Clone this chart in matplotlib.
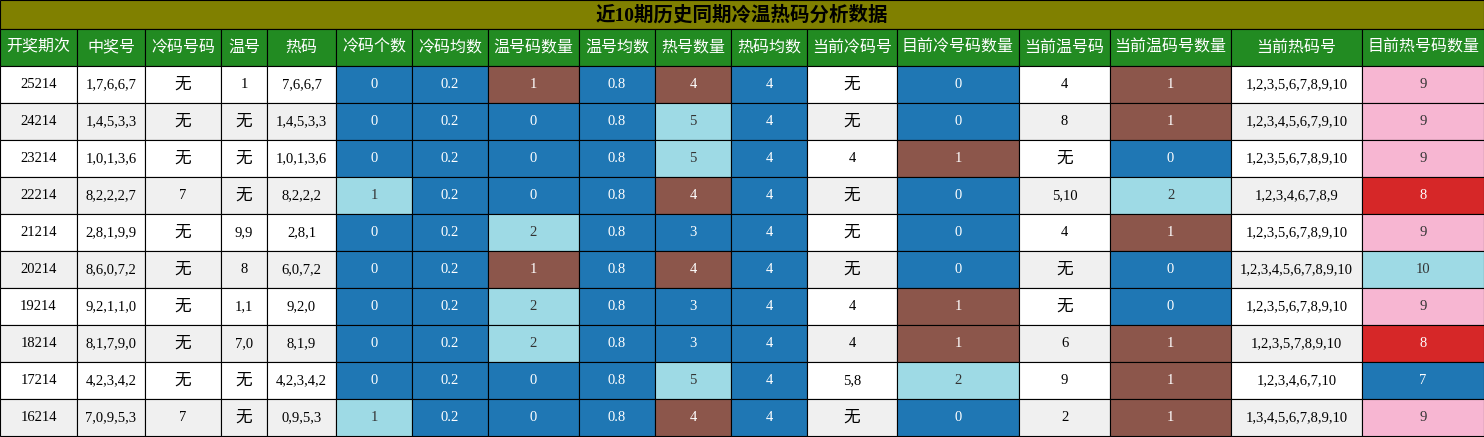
import matplotlib.pyplot as plt
from matplotlib.patches import Rectangle

plt.rcParams['font.family'] = ['Liberation Serif', 'Noto Sans CJK SC']

title = "近10期历史同期冷温热码分析数据"
headers = ["开奖期次", "中奖号", "冷码号码", "温号", "热码", "冷码个数", "冷码均数", "温号码数量",
           "温号均数", "热号数量", "热码均数", "当前冷码号", "目前冷号码数量", "当前温号码",
           "当前温码号数量", "当前热码号", "目前热号码数量"]
periods = ["25214", "24214", "23214", "22214", "21214", "20214", "19214", "18214", "17214", "16214"]
winning = ["1,7,6,6,7", "1,4,5,3,3", "1,0,1,3,6", "8,2,2,2,7", "2,8,1,9,9",
           "8,6,0,7,2", "9,2,1,1,0", "8,1,7,9,0", "4,2,3,4,2", "7,0,9,5,3"]
cold = ["无", "无", "无", "7", "无", "无", "无", "无", "无", "7"]
warm = ["1", "无", "无", "无", "9,9", "8", "1,1", "7,0", "无", "无"]
hot = ["7,6,6,7", "1,4,5,3,3", "1,0,1,3,6", "8,2,2,2", "2,8,1", "6,0,7,2", "9,2,0", "8,1,9", "4,2,3,4,2", "0,9,5,3"]
cold_cnt = [0, 0, 0, 1, 0, 0, 0, 0, 0, 1]
cold_avg = [0.2] * 10
warm_cnt = [1, 0, 0, 0, 2, 1, 2, 2, 0, 0]
warm_avg = [0.8] * 10
hot_cnt = [4, 5, 5, 4, 3, 4, 3, 3, 5, 4]
hot_avg = [4] * 10
cur_cold = ["无", "无", "4", "无", "无", "无", "4", "4", "5,8", "无"]
cur_cold_cnt = [0, 0, 1, 0, 0, 0, 1, 1, 2, 0]
cur_warm = ["4", "8", "无", "5,10", "4", "无", "无", "6", "9", "2"]
cur_warm_cnt = [1, 1, 0, 2, 1, 0, 0, 1, 1, 1]
cur_hot = ["1,2,3,5,6,7,8,9,10", "1,2,3,4,5,6,7,9,10", "1,2,3,5,6,7,8,9,10", "1,2,3,4,6,7,8,9",
           "1,2,3,5,6,7,8,9,10", "1,2,3,4,5,6,7,8,9,10", "1,2,3,5,6,7,8,9,10", "1,2,3,5,7,8,9,10",
           "1,2,3,4,6,7,10", "1,3,4,5,6,7,8,9,10"]
cur_hot_cnt = [9, 9, 9, 8, 9, 10, 9, 8, 7, 9]

BLUE, BROWN, CYAN, PINK, RED = "#1f77b4", "#8c564b", "#9edae5", "#f7b6d2", "#d62728"
cmap_cold = {0: BLUE, 1: CYAN}
cmap_warm = {0: BLUE, 1: BROWN, 2: CYAN}
cmap_hot = {3: BLUE, 4: BROWN, 5: CYAN}
cmap_cur_cold = {0: BLUE, 1: BROWN, 2: CYAN}
cmap_cur_hot = {7: BLUE, 8: RED, 9: PINK, 10: CYAN}

edges = [0, 77, 145, 221, 267, 336, 412, 488, 579, 655, 731, 807, 897, 1019, 1110, 1231, 1362, 1484]
row_y = [66 + 37 * i for i in range(11)]

fig = plt.figure(figsize=(14.84, 4.37), dpi=100)
ax = fig.add_axes([0, 0, 1, 1])
ax.set_xlim(0, 1484)
ax.set_ylim(437, 0)
ax.axis("off")

def cell(x0, x1, y0, y1, txt, bg, fc="black", size=10.5, weight="normal"):
    ax.add_patch(Rectangle((x0, y0), x1 - x0, y1 - y0, facecolor=bg, edgecolor="black", lw=0.8))
    if txt == "无":
        size += 1.5
    ax.text((x0 + x1) / 2, (y0 + y1) / 2, txt, ha="center", va="center", fontsize=size,
            color=fc, weight=weight)

cell(0, 1484, 0, 29, title, "#808000", size=14, weight="bold")
for j, h in enumerate(headers):
    cell(edges[j], edges[j + 1], 29, 66, h, "#228B22", fc="white", size=11.5)

for i in range(10):
    base = "white" if i % 2 == 0 else "#f0f0f0"
    vals = [(periods[i], None), (winning[i], None), (cold[i], None), (warm[i], None), (hot[i], None),
            (cold_cnt[i], cmap_cold[cold_cnt[i]]), (cold_avg[i], BLUE),
            (warm_cnt[i], cmap_warm[warm_cnt[i]]), (warm_avg[i], BLUE),
            (hot_cnt[i], cmap_hot[hot_cnt[i]]), (hot_avg[i], BLUE),
            (cur_cold[i], None), (cur_cold_cnt[i], cmap_cur_cold[cur_cold_cnt[i]]),
            (cur_warm[i], None), (cur_warm_cnt[i], cmap_warm[cur_warm_cnt[i]]),
            (cur_hot[i], None), (cur_hot_cnt[i], cmap_cur_hot[cur_hot_cnt[i]])]
    for j, (v, c) in enumerate(vals):
        bg = c if c else base
        fc = "white" if c in (BLUE, BROWN, RED) else ("#333333" if c else "black")
        cell(edges[j], edges[j + 1], row_y[i], row_y[i + 1], str(v), bg, fc=fc)

fig.savefig("out.png", dpi=100)
